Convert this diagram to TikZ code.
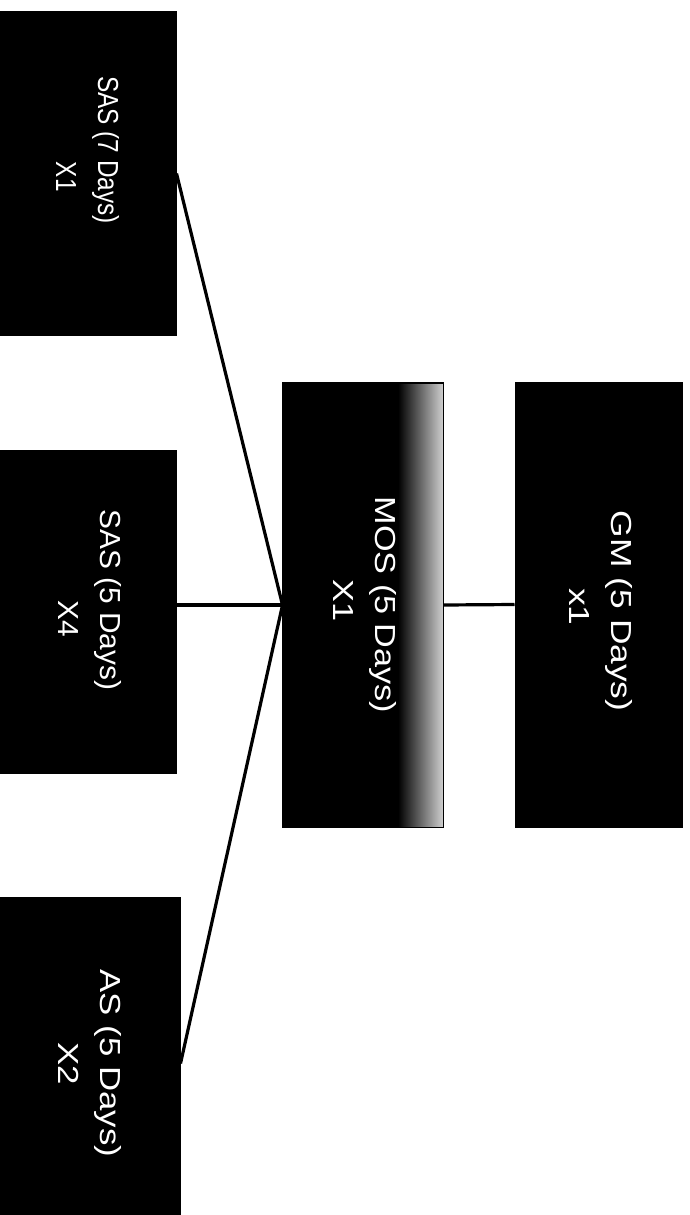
\documentclass[tikz,border=0pt]{standalone}
\usepackage{fontspec}
\setmainfont{Liberation Sans}
\usepackage{graphicx}
\tikzset{
  blk/.style={fill=black, draw=black, line width=1pt, inner sep=0pt, text=white,
    font=\fontsize{29}{42}\selectfont},
  conn/.style={line width=3.2pt, draw=black},
}
% #1 stretch, #2 line 1, #3 line 2, #4/#5 trailing space (shifts a line along the text)
\newcommand{\boxlabel}[5]{\rotatebox{-90}{\scalebox{#1}[1]{\begin{tabular}{@{}c@{}}#2\hspace*{#4}\\#3\hspace*{#5}\end{tabular}}}}
\begin{document}
\begin{tikzpicture}[x=1pt,y=-1pt]
\useasboundingbox (0,0) rectangle (689,1215);
\clip (0,0) rectangle (689,1215);
\fill[white] (0,0) rectangle (689,1215);
\node[blk, minimum width=181pt, minimum height=323pt] (sas7) at (85.5,173.5) {\boxlabel{0.84}{SAS (7 Days)}{X1}{56pt}{-8pt}};
\node[blk, minimum width=176pt, minimum height=323pt] (sas5) at (88,611.5) {\boxlabel{1.03}{SAS (5 Days)}{X4}{23pt}{-15pt}};
\node[blk, minimum width=185pt, minimum height=333pt] (as) at (87.5,1063.5) {\boxlabel{1.2}{AS (5 Days)}{X2}{0pt}{0pt}};
\node[blk, minimum width=160pt, minimum height=444pt] (mos) at (363,605) {\boxlabel{1.18}{MOS (5 Days)}{X1}{0pt}{7pt}};
\foreach \i in {0,...,44}{
  \pgfmathsetmacro{\p}{100-1.8*\i}
  \fill[black!\p] (398+\i,383.5) rectangle (399.2+\i,826.5);
}
\draw[line width=1pt] (mos.north west) rectangle (mos.south east);
\node[blk, minimum width=167pt, minimum height=445pt] (gm) at (598.5,604.5) {\boxlabel{1.22}{GM (5 Days)}{x1}{-11pt}{-4pt}};
\draw[conn] (sas7.east) -- (mos.west);
\draw[conn] (sas5.east |- mos.west) -- (mos.west);
\draw[conn] (as.east) -- (mos.west);
\draw[conn] (mos.east) -- (gm.west);
\end{tikzpicture}
\end{document}
